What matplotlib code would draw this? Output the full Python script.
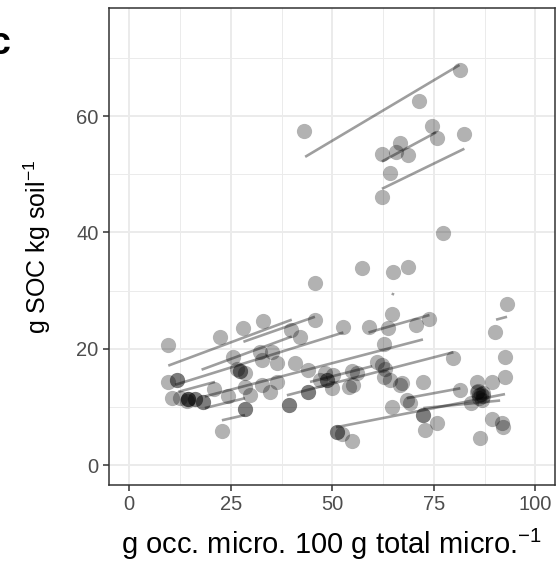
import matplotlib
matplotlib.use("Agg")
import matplotlib.pyplot as plt
from matplotlib.ticker import MultipleLocator

plt.rcParams['font.family'] = ['Liberation Sans', 'DejaVu Sans']
plt.rcParams['mathtext.fontset'] = 'custom'
plt.rcParams['mathtext.rm'] = 'Liberation Sans'

# occluded micro-aggregate share vs soil organic carbon, one dot per sample
occ_micro = [
    81.5, 71.4, 43.0, 74.5, 75.7, 82.5, 66.7, 65.7, 62.2, 68.7, 64.2, 62.2, 77.3,
    57.4, 65.0, 68.5, 45.7, 93.0, 90.1,
    9.5, 22.3, 28.1, 32.8, 39.8, 42.0, 45.7, 52.7, 58.9, 63.8, 64.6, 70.6, 73.9,
    62.6, 79.8, 92.5, 92.5, 89.3, 85.6,
    85.5, 86.0, 86.5, 87.0, 86.2, 85.8, 87.2, 86.8,
    81.5, 84.1, 72.4, 67.1, 68.3, 69.1, 72.4, 72.4, 75.7, 72.8, 89.3, 91.7, 91.9,
    86.4, 51.1, 51.1, 52.3, 54.8, 64.6, 66.7, 64.2, 62.6, 63.0, 62.1, 60.9,
    56.0, 54.8, 55.2, 54.0, 49.9, 48.6, 48.6, 47.0, 50.2, 48.2, 44.1, 40.8,
    44.1, 44.1, 39.2, 39.2, 36.3, 35.1, 32.2, 32.6, 36.3, 32.6, 34.7, 29.7,
    28.5, 28.5, 28.5, 25.6, 26.5, 27.3, 27.3, 28.5, 24.2, 20.9, 22.8,
    14.5, 14.5, 14.5, 16.2, 16.2, 18.2, 18.2, 14.1, 12.5, 10.4, 9.6, 11.7, 11.7,
]
soc = [
    67.9, 62.6, 57.5, 58.3, 56.2, 57.0, 55.4, 53.9, 53.5, 53.4, 50.3, 46.1, 39.9,
    33.9, 33.2, 34.0, 31.3, 27.7, 22.8,
    20.7, 22.0, 23.5, 24.7, 23.2, 22.0, 25.0, 23.8, 23.8, 23.5, 26.0, 24.1, 25.2,
    20.9, 18.4, 18.5, 15.2, 14.3, 14.3,
    12.5, 12.0, 12.3, 11.8, 11.5, 12.8, 12.4, 11.2,
    12.9, 10.6, 14.2, 14.1, 11.2, 10.6, 8.6, 8.6, 7.3, 6.0, 7.9, 7.2, 6.6,
    4.6, 5.6, 5.6, 5.4, 4.2, 9.9, 13.8, 14.6, 15.2, 16.6, 17.2, 17.8,
    15.8, 16.1, 13.8, 13.4, 13.2, 14.6, 14.6, 14.6, 15.5, 15.8, 16.3, 17.5,
    12.6, 12.6, 10.3, 10.3, 17.5, 19.5, 19.5, 18.1, 14.2, 13.8, 12.6, 12.0,
    13.4, 9.6, 9.6, 18.6, 16.5, 16.1, 16.1, 15.8, 11.9, 13.1, 5.9,
    11.3, 11.3, 11.3, 11.3, 11.3, 10.9, 10.9, 11.1, 11.5, 11.6, 14.3, 14.6, 14.6,
]

# fitted lines per site: start x, start y, end x, end y
fit_x0 = [43.3, 62.2, 62.2, 9.6, 28.1, 17.8, 11.3, 58.9, 18.6, 38.8,
          12.1, 18.6, 22.8, 50.9, 72.4, 68.3, 90.3, 64.8, 44.5]
fit_y0 = [53.0, 52.2, 47.5, 17.1, 21.2, 16.4, 13.8, 22.8, 11.8, 12.0,
          12.6, 9.8, 7.7, 6.5, 9.8, 11.5, 25.0, 29.2, 14.3]
fit_x1 = [81.3, 75.5, 82.5, 40.0, 45.7, 40.0, 52.7, 73.9, 72.3, 79.8,
          21.1, 28.5, 28.5, 92.5, 91.3, 81.5, 93.0, 65.0, 59.8]
fit_y1 = [68.8, 57.2, 54.4, 25.0, 25.5, 22.1, 22.8, 25.8, 21.6, 19.4,
          14.3, 11.5, 8.6, 12.2, 11.1, 13.2, 25.5, 29.6, 17.0]

fig = plt.figure(figsize=(5.6, 5.7), dpi=100)
ax = fig.add_axes([0.1946, 0.149, 0.7964, 0.837])

ax.scatter(occ_micro, soc, s=120, color='black', alpha=0.3, linewidths=0, zorder=3)
for a, b, c, d in zip(fit_x0, fit_y0, fit_x1, fit_y1):
    ax.plot([a, c], [b, d], color='black', alpha=0.38, lw=1.9,
            solid_capstyle='butt', zorder=4)

ax.set_xlim(-5, 104.8)
ax.set_ylim(-3.44, 78.6)
ax.xaxis.set_major_locator(MultipleLocator(25))
ax.xaxis.set_minor_locator(MultipleLocator(12.5))
ax.yaxis.set_major_locator(MultipleLocator(20))
ax.yaxis.set_minor_locator(MultipleLocator(10))
ax.grid(which='major', color='#ebebeb', lw=1.4, zorder=0)
ax.grid(which='minor', color='#ebebeb', lw=0.7, zorder=0)
ax.set_axisbelow(True)
ax.tick_params(which='minor', length=0)
ax.tick_params(which='major', length=4.5, width=1.1, color='#333333',
               labelcolor='#4d4d4d', labelsize=14.5, pad=3)
for sp in ax.spines.values():
    sp.set_color('#333333')
    sp.set_linewidth(1.1)

ax.set_xlabel(r'g occ. micro. 100 g total micro.$^{-1}$', fontsize=21, labelpad=9)
ax.set_ylabel(r'g SOC kg soil$^{-1}$', fontsize=18, labelpad=17)

fig.text(0.0, 1 - 44 / 570, 'c', ha='center', va='center',
         fontsize=27, fontweight='bold')

fig.savefig('out.png', dpi=100)
